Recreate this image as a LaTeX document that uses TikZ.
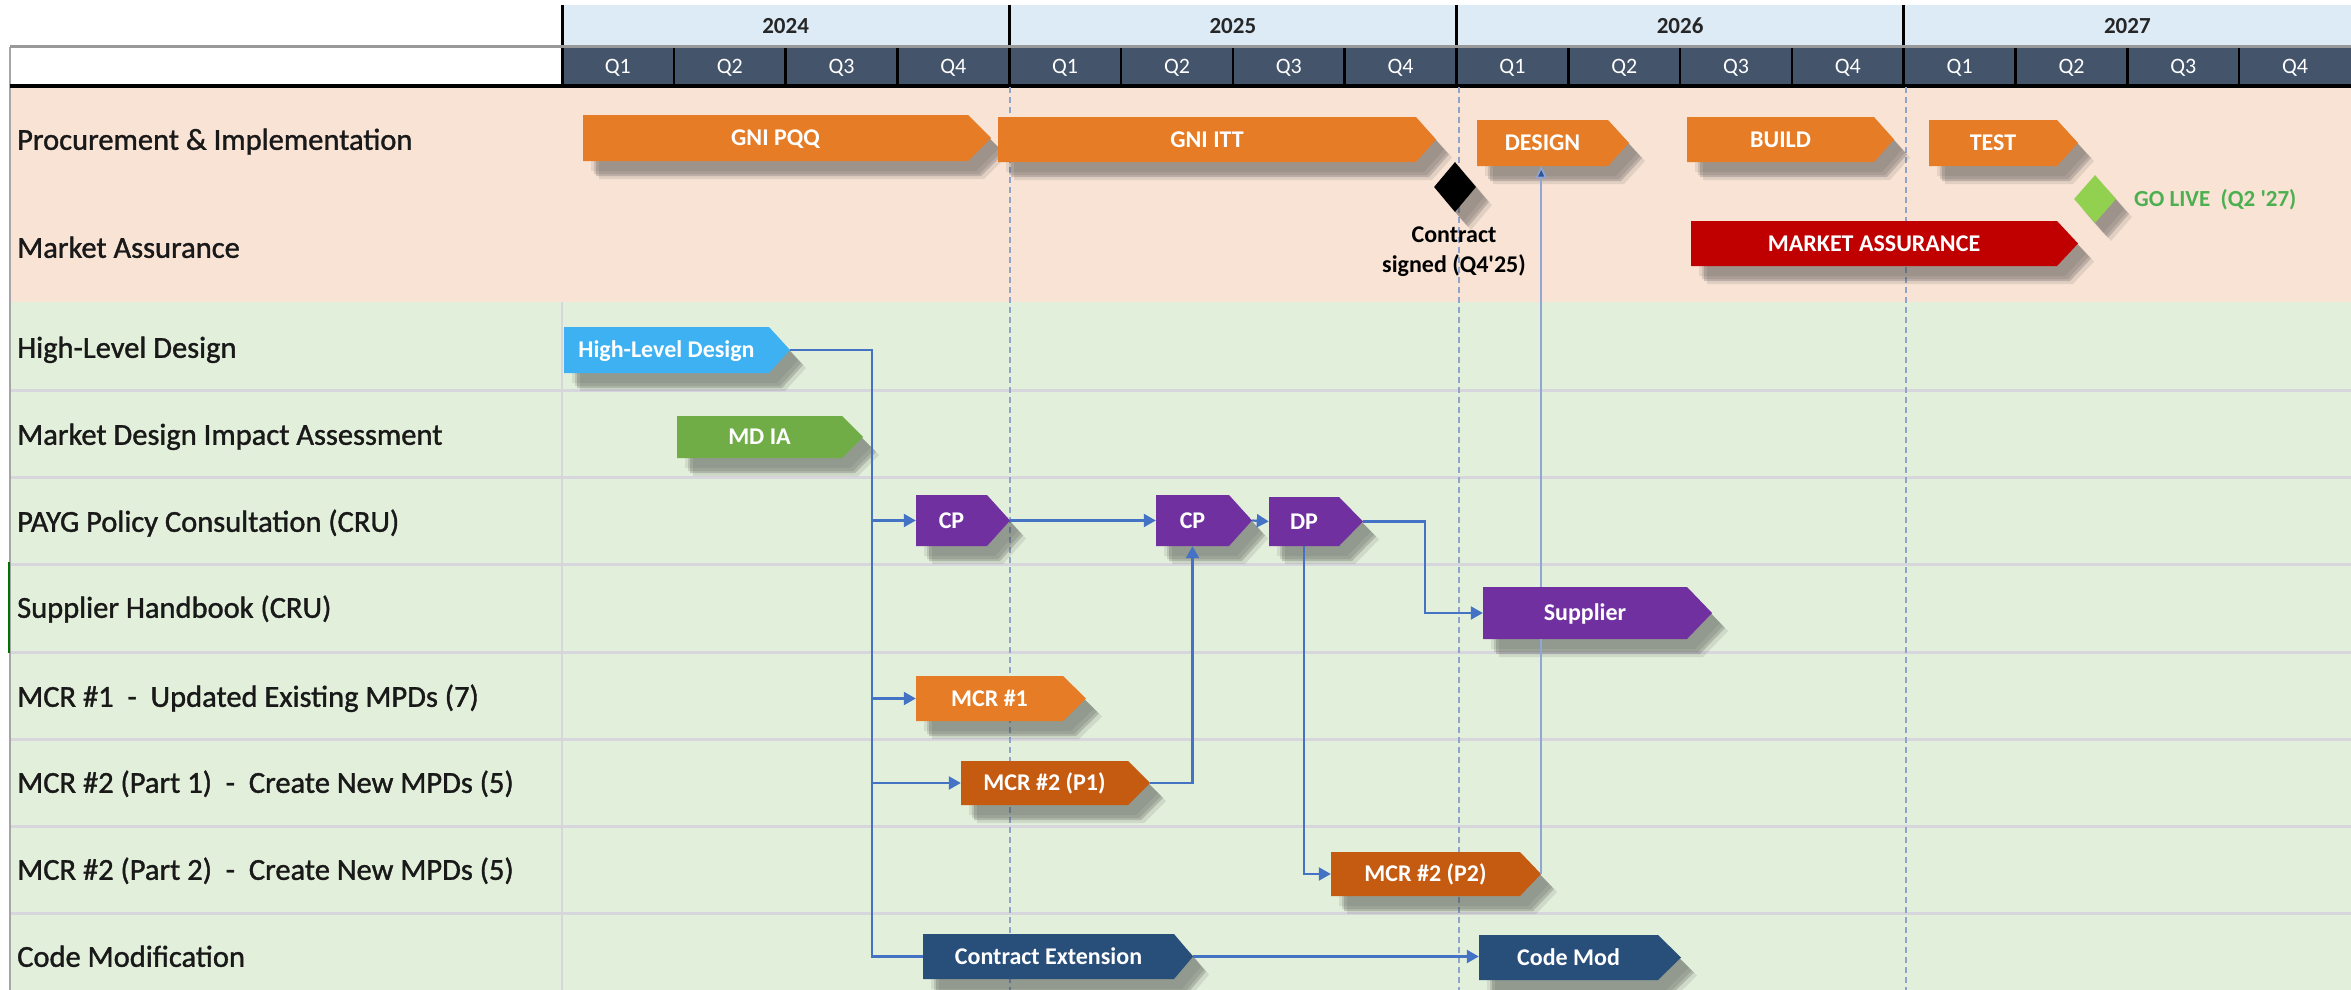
\documentclass[tikz,border=0pt]{standalone}
\usepackage{fontspec}
\setmainfont{Carlito}
\newfontfamily\rowfont{Carlito}[FakeBold=1.2]
\usetikzlibrary{arrows.meta,shapes.geometric,calc}

\definecolor{peach}{HTML}{F8E3D5}
\definecolor{lgreen}{HTML}{E2EFDA}
\definecolor{yearfill}{HTML}{DDEBF7}
\definecolor{qfill}{HTML}{44546A}
\definecolor{torange}{HTML}{E67C26}
\definecolor{tdarkorange}{HTML}{C55A11}
\definecolor{tsky}{HTML}{3DB1F2}
\definecolor{tleaf}{HTML}{70AD47}
\definecolor{tpurple}{HTML}{7030A0}
\definecolor{tnavy}{HTML}{284E7A}
\definecolor{tred}{HTML}{C00000}
\definecolor{conncol}{HTML}{4472C4}
\definecolor{connthin}{HTML}{8FA6D6}
\definecolor{arrowdark}{HTML}{2F5597}
\definecolor{golivetext}{HTML}{4CAF50}
\definecolor{golivefill}{HTML}{92D050}
\definecolor{gridcol}{HTML}{D6D6DC}
\definecolor{dashcol}{HTML}{8EA4CC}

\tikzset{
  tasklabel/.style={inner sep=0pt, text=white, text height=15.5pt, text depth=0pt,
    font=\fontsize{24}{28}\selectfont\bfseries},
  softshadow/.style={
    preaction={fill=black!75, opacity=0.10, transform canvas={shift={(8pt,-10pt)}}},
    preaction={fill=black!75, opacity=0.16, transform canvas={shift={(11pt,-13pt)}}},
    preaction={fill=black!75, opacity=0.22, transform canvas={shift={(13pt,-15pt)}}},
    preaction={fill=black!75, opacity=0.12, transform canvas={shift={(16pt,-18pt)}}}},
  link/.style={draw=conncol, line width=2.2pt},
  arr/.style={-{Triangle[length=12pt,width=13pt]}},
  rowlabel/.style={anchor=west, inner sep=0pt, text height=19.6pt, text depth=0pt,
    font=\rowfont\fontsize{30.5}{36}\selectfont, text=black!90},
  yearlabel/.style={inner sep=0pt, text height=14.5pt, text depth=0pt,
    font=\fontsize{23}{27}\selectfont\bfseries, text=black!85},
  qlabel/.style={inner sep=0pt, text height=14pt, text depth=0pt,
    font=\fontsize{22}{26}\selectfont, text=white},
  milestone/.style={diamond, inner sep=0pt, minimum width=42pt, minimum height=50pt, softshadow},
  gridline/.style={draw=gridcol, line width=3pt},
  yearsep/.style={draw=black, line width=3pt},
  qsep/.style={draw=black, line width=2.5pt},
  dashline/.style={draw=dashcol, line width=1.6pt, dash pattern=on 6pt off 4pt},
}

% name, x-left, y-top, x-body-end, y-bottom, tip length, colour, text
\newcommand\taskbox[8]{%
  \fill[#7, softshadow] (#2,#3) -- (#4,#3) -- ({#4+#6},{(#3+#5)/2}) -- (#4,#5) -- (#2,#5) -- cycle;
  \node[tasklabel, minimum width={#4-#2}, minimum height={#5-#3}] (#1) at ({(#2+#4)/2},{(#3+#5)/2}) {#8};
  \coordinate (#1tip) at ([xshift=#6pt]#1.east);
}

\begin{document}
\begin{tikzpicture}[x=1pt, y=-1pt]
\useasboundingbox (0,0) rectangle (2351,990);

% backgrounds and grid
\fill[white] (0,0) rectangle (2351,990);
\fill[peach] (10,86) rectangle (2351,302);
\fill[lgreen] (10,302) rectangle (2351,990);
\foreach \yy in {390,477,564,652,739,826,913}
  \draw[gridline] (10,\yy) -- (2351,\yy);
\draw[draw=gridcol, line width=2pt] (562,302) -- (562,990);
\draw[draw=black!35, line width=2pt] (10,47) -- (10,990);
\draw[draw=green!45!black, line width=2pt] (9,562) -- (9,653);
% header
\fill[yearfill] (562,5) rectangle (2351,47);
\fill[qfill] (562,48) rectangle (2351,86);
\foreach \i in {1,2,3,5,6,7,9,10,11,13,14,15}
  \draw[qsep] ({562+\i*111.8125},48) -- ({562+\i*111.8125},86);
\foreach \i in {0,1,2,3}
  \draw[yearsep] ({562+\i*447.25},5) -- ({562+\i*447.25},86);
\draw[draw=black!40, line width=3pt] (10,47) -- (2351,47);
\draw[draw=black, line width=3pt] (10,86) -- (2351,86);
% dashed year markers
\foreach \xx in {1010,1459,1906}
  \draw[dashline] (\xx,87) -- (\xx,990);

% header labels
\foreach \yr [count=\i from 0] in {2024,2025,2026,2027} {
  \node[yearlabel] (y\yr) at ({562+(\i+0.5)*447.25},26) {\yr};
  \foreach \q in {1,2,3,4}
    \node[qlabel] (q\q-\yr) at ({562+\i*447.25+(\q-0.5)*111.8125},67) {Q\q};
}

% row labels
\node[rowlabel] (r1) at (17,140) {Procurement \& Implementation};
\node[rowlabel] (r2) at (17,248) {Market Assurance};
\node[rowlabel] (r3) at (17,348) {High-Level Design};
\node[rowlabel] (r4) at (17,435) {Market Design Impact Assessment};
\node[rowlabel] (r5) at (17,522) {PAYG Policy Consultation (CRU)};
\node[rowlabel] (r6) at (17,608) {Supplier Handbook (CRU)};
\node[rowlabel] (r7) at (17,697) {MCR \#1\ \ -\ \ Updated Existing MPDs (7)};
\node[rowlabel] (r8) at (17,783) {MCR \#2 (Part 1)\ \ -\ \ Create New MPDs (5)};
\node[rowlabel] (r9) at (17,870) {MCR \#2 (Part 2)\ \ -\ \ Create New MPDs (5)};
\node[rowlabel] (r10) at (17,957) {Code Modification};

% task bars
\taskbox{pqq}{583}{115}{968}{161}{23}{torange}{GNI PQQ}
\taskbox{itt}{998}{117}{1416}{162}{20}{torange}{GNI ITT}
\taskbox{design}{1477}{120}{1608}{166}{21}{torange}{DESIGN}
\taskbox{build}{1687}{117}{1874}{162}{20}{torange}{BUILD}
\taskbox{test}{1929}{120}{2057}{166}{21}{torange}{TEST}
\taskbox{ma}{1691}{221}{2057}{266}{21}{tred}{MARKET ASSURANCE}
\taskbox{hld}{564}{327}{769}{373}{21}{tsky}{High-Level Design}
\taskbox{mdia}{677}{416}{842}{458}{21}{tleaf}{MD IA}
\taskbox{cpa}{916}{495}{987}{546}{23}{tpurple}{CP}
\taskbox{cpb}{1156}{495}{1229}{546}{23}{tpurple}{CP}
\taskbox{dp}{1269}{497}{1339}{546}{24}{tpurple}{DP}
\taskbox{sup}{1483}{587}{1687}{639}{25}{tpurple}{Supplier}
\taskbox{mcra}{916}{676}{1063}{721}{23}{torange}{MCR \#1}
\taskbox{pa}{961}{761}{1128}{805}{22}{tdarkorange}{MCR \#2 (P1)}
\taskbox{pb}{1331}{852}{1520}{896}{21}{tdarkorange}{MCR \#2 (P2)}
\taskbox{ce}{923}{934}{1174}{979}{19}{tnavy}{Contract Extension}
\taskbox{cm}{1479}{935}{1658}{980}{23}{tnavy}{Code Mod}

% milestones
\node[milestone, fill=black] (signed) at (1455,187) {};
\node[inner sep=0pt, align=center, font=\fontsize{24}{30}\selectfont\bfseries] (signedtxt) at (1454,252)
  {Contract\\signed (Q4\textquotesingle 25)};
\node[milestone, fill=golivefill, minimum height=48pt] (golive) at (2095,199) {};
\node[anchor=west, inner sep=0pt, text height=15pt, text depth=0pt, text=golivetext,
  font=\fontsize{23}{27}\selectfont\bfseries] (golivetxt) at (2134,199) {GO LIVE\ \ (Q2 \textquotesingle 27)};

% connectors
\coordinate (trunk) at (872,0);
\coordinate (dpturn) at (1425,0);
\draw[link] (hldtip) -- (hldtip -| trunk) |- (ce.west);
\draw[link,arr] (hldtip) -- (hldtip -| trunk) |- (cpa.west);
\draw[link,arr] (hldtip) -- (hldtip -| trunk) |- (mcra.west);
\draw[link,arr] (hldtip) -- (hldtip -| trunk) |- (pa.west);
\draw[link,arr] (cpatip) -- (cpb.west);
\draw[link,arr] (cpbtip) -- (dp.west);
\draw[link,arr] (dptip) -- (dptip -| dpturn) |- (sup.west);
\draw[link,arr] (patip) -| (cpb.south);
\draw[link,arr] (dp.south) |- (pb.west);
% P2 -> DESIGN runs behind the Supplier bar
\draw[draw=connthin, line width=1.5pt] (pbtip) -- (pbtip |- sup.south);
\draw[draw=connthin, line width=1.5pt, -{Triangle[length=12pt,width=11pt,fill=arrowdark]}] (pbtip |- sup.north) -- (pbtip |- design.south);
\draw[link,arr] (cetip) -- (cetip -| cm.west);
\end{tikzpicture}
\end{document}
